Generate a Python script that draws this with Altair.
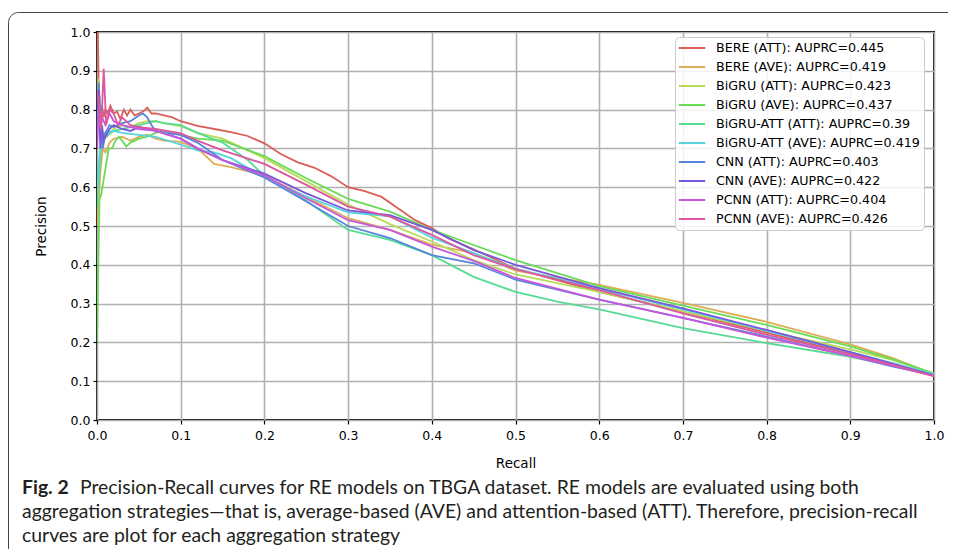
import altair as alt
import pandas as pd

series = [
    "BERE (ATT): AUPRC=0.445",
    "BERE (AVE): AUPRC=0.419",
    "BiGRU (ATT): AUPRC=0.423",
    "BiGRU (AVE): AUPRC=0.437",
    "BiGRU-ATT (ATT): AUPRC=0.39",
    "BiGRU-ATT (AVE): AUPRC=0.419",
    "CNN (ATT): AUPRC=0.403",
    "CNN (AVE): AUPRC=0.422",
    "PCNN (ATT): AUPRC=0.404",
    "PCNN (AVE): AUPRC=0.426",
]
colors = ["#db5f57", "#dbae57", "#b9db57", "#69db57", "#57db94",
          "#57d3db", "#5784db", "#7957db", "#c957db", "#db579e"]

rec_bere_att = [0.0, 0.001, 0.002, 0.004, 0.006, 0.008, 0.01, 0.013, 0.016, 0.02, 0.024, 0.028, 0.032, 0.036, 0.04, 0.045, 0.05, 0.055, 0.06, 0.065, 0.07, 0.08, 0.09, 0.1, 0.12, 0.14, 0.16, 0.18, 0.2, 0.22, 0.24, 0.26, 0.28, 0.3, 0.32, 0.34, 0.36, 0.38, 0.4, 0.42, 0.45, 0.5, 0.6, 0.7, 0.8, 0.9, 0.95, 1.0]
pre_bere_att = [1.0, 1.0, 0.86, 0.79, 0.81, 0.78, 0.80, 0.79, 0.81, 0.79, 0.795, 0.775, 0.80, 0.785, 0.80, 0.785, 0.79, 0.795, 0.805, 0.79, 0.79, 0.785, 0.78, 0.77, 0.758, 0.75, 0.742, 0.732, 0.713, 0.685, 0.664, 0.65, 0.628, 0.600, 0.59, 0.575, 0.545, 0.515, 0.495, 0.468, 0.44, 0.39, 0.33, 0.279, 0.225, 0.172, 0.145, 0.115]

rec_bere_ave = [0.0, 0.002, 0.004, 0.007, 0.01, 0.015, 0.02, 0.03, 0.04, 0.05, 0.06, 0.07, 0.08, 0.1, 0.12, 0.14, 0.16, 0.2, 0.25, 0.3, 0.35, 0.4, 0.45, 0.5, 0.6, 0.7, 0.8, 0.9, 0.95, 1.0]
pre_bere_ave = [0.5, 0.55, 0.64, 0.70, 0.69, 0.715, 0.725, 0.73, 0.72, 0.73, 0.735, 0.725, 0.72, 0.717, 0.70, 0.66, 0.652, 0.63, 0.575, 0.52, 0.49, 0.452, 0.43, 0.385, 0.348, 0.302, 0.253, 0.195, 0.16, 0.118]

rec_bigru_att = [0.0, 0.002, 0.005, 0.008, 0.012, 0.02, 0.03, 0.04, 0.05, 0.06, 0.07, 0.08, 0.1, 0.12, 0.15, 0.2, 0.25, 0.3, 0.35, 0.4, 0.45, 0.5, 0.6, 0.7, 0.8, 0.9, 0.95, 1.0]
pre_bigru_att = [0.7, 0.88, 0.72, 0.74, 0.73, 0.75, 0.76, 0.755, 0.765, 0.77, 0.77, 0.765, 0.757, 0.74, 0.725, 0.675, 0.615, 0.555, 0.505, 0.46, 0.412, 0.375, 0.33, 0.28, 0.23, 0.182, 0.155, 0.12]

rec_bigru_ave = [0.0, 0.001, 0.002, 0.003, 0.005, 0.008, 0.011, 0.014, 0.018, 0.022, 0.026, 0.03, 0.035, 0.04, 0.045, 0.05, 0.06, 0.07, 0.08, 0.1, 0.12, 0.15, 0.2, 0.25, 0.3, 0.35, 0.4, 0.45, 0.5, 0.6, 0.7, 0.8, 0.9, 0.95, 1.0]
pre_bigru_ave = [0.2, 0.33, 0.45, 0.57, 0.58, 0.62, 0.66, 0.70, 0.70, 0.72, 0.73, 0.72, 0.705, 0.715, 0.72, 0.725, 0.73, 0.74, 0.745, 0.735, 0.725, 0.72, 0.68, 0.623, 0.57, 0.537, 0.49, 0.451, 0.412, 0.345, 0.295, 0.245, 0.19, 0.157, 0.12]

rec_bigruatt_att = [0.0, 0.002, 0.005, 0.01, 0.02, 0.03, 0.04, 0.05, 0.06, 0.07, 0.08, 0.1, 0.12, 0.15, 0.18, 0.2, 0.25, 0.3, 0.35, 0.4, 0.45, 0.5, 0.55, 0.6, 0.7, 0.8, 0.9, 0.95, 1.0]
pre_bigruatt_att = [0.55, 0.62, 0.70, 0.73, 0.745, 0.75, 0.755, 0.76, 0.765, 0.77, 0.765, 0.76, 0.74, 0.715, 0.67, 0.63, 0.565, 0.49, 0.464, 0.425, 0.369, 0.33, 0.305, 0.285, 0.237, 0.198, 0.163, 0.14, 0.115]

rec_bigruatt_ave = [0.0, 0.002, 0.005, 0.01, 0.02, 0.03, 0.05, 0.07, 0.1, 0.12, 0.14, 0.16, 0.2, 0.25, 0.3, 0.35, 0.4, 0.45, 0.5, 0.6, 0.7, 0.8, 0.9, 0.95, 1.0]
pre_bigruatt_ave = [0.6, 0.66, 0.72, 0.74, 0.745, 0.74, 0.735, 0.73, 0.71, 0.695, 0.69, 0.675, 0.625, 0.576, 0.535, 0.525, 0.47, 0.43, 0.39, 0.338, 0.285, 0.23, 0.175, 0.147, 0.118]

rec_cnn_att = [0.0, 0.002, 0.004, 0.007, 0.01, 0.015, 0.02, 0.03, 0.04, 0.05, 0.055, 0.06, 0.065, 0.07, 0.08, 0.1, 0.12, 0.15, 0.2, 0.25, 0.3, 0.35, 0.4, 0.45, 0.5, 0.6, 0.7, 0.8, 0.9, 0.95, 1.0]
pre_cnn_att = [0.75, 0.87, 0.78, 0.70, 0.74, 0.76, 0.755, 0.765, 0.77, 0.785, 0.79, 0.78, 0.76, 0.745, 0.74, 0.735, 0.715, 0.67, 0.625, 0.563, 0.50, 0.469, 0.425, 0.404, 0.362, 0.31, 0.263, 0.215, 0.165, 0.138, 0.115]

rec_cnn_ave = [0.0, 0.002, 0.004, 0.006, 0.008, 0.01, 0.015, 0.02, 0.03, 0.04, 0.05, 0.07, 0.1, 0.12, 0.15, 0.2, 0.25, 0.3, 0.35, 0.4, 0.45, 0.5, 0.6, 0.7, 0.8, 0.9, 0.95, 1.0]
pre_cnn_ave = [0.8, 0.85, 0.70, 0.76, 0.72, 0.73, 0.75, 0.76, 0.75, 0.745, 0.755, 0.745, 0.725, 0.70, 0.67, 0.635, 0.584, 0.54, 0.528, 0.49, 0.438, 0.40, 0.34, 0.288, 0.232, 0.175, 0.145, 0.115]

rec_pcnn_att = [0.0, 0.002, 0.004, 0.006, 0.01, 0.015, 0.02, 0.03, 0.05, 0.07, 0.1, 0.12, 0.15, 0.2, 0.25, 0.3, 0.35, 0.4, 0.45, 0.5, 0.6, 0.7, 0.8, 0.9, 0.95, 1.0]
pre_pcnn_att = [0.7, 0.80, 0.75, 0.78, 0.76, 0.79, 0.77, 0.76, 0.75, 0.745, 0.725, 0.70, 0.67, 0.63, 0.571, 0.515, 0.49, 0.447, 0.41, 0.366, 0.31, 0.263, 0.212, 0.165, 0.14, 0.113]

rec_pcnn_ave = [0.0, 0.002, 0.005, 0.008, 0.011, 0.015, 0.02, 0.025, 0.03, 0.04, 0.05, 0.07, 0.1, 0.12, 0.15, 0.2, 0.25, 0.3, 0.35, 0.4, 0.45, 0.5, 0.6, 0.7, 0.8, 0.9, 0.95, 1.0]
pre_pcnn_ave = [0.85, 0.82, 0.75, 0.905, 0.76, 0.80, 0.79, 0.76, 0.78, 0.76, 0.755, 0.75, 0.739, 0.72, 0.695, 0.66, 0.606, 0.55, 0.524, 0.477, 0.425, 0.389, 0.335, 0.275, 0.22, 0.17, 0.143, 0.113]

ticks = [0.0, 0.1, 0.2, 0.3, 0.4, 0.5, 0.6, 0.7, 0.8, 0.9, 1.0]

fig_label = "Fig. 2"
caption_lines = [
    "Precision-Recall curves for RE models on TBGA dataset. RE models are evaluated using both",
    "aggregation strategies\u2014that is, average-based (AVE) and attention-based (ATT). Therefore, precision-recall",
    "curves are plot for each aggregation strategy",
]

recalls = [rec_bere_att, rec_bere_ave, rec_bigru_att, rec_bigru_ave, rec_bigruatt_att,
           rec_bigruatt_ave, rec_cnn_att, rec_cnn_ave, rec_pcnn_att, rec_pcnn_ave]
precisions = [pre_bere_att, pre_bere_ave, pre_bigru_att, pre_bigru_ave, pre_bigruatt_att,
              pre_bigruatt_ave, pre_cnn_att, pre_cnn_ave, pre_pcnn_att, pre_pcnn_ave]

rows = []
for name, rs, ps in zip(series, recalls, precisions):
    for i, (r, p) in enumerate(zip(rs, ps)):
        rows.append({"model": name, "recall": r, "precision": p, "order": i})
df = pd.DataFrame(rows)

AX_FONT = "DejaVu Sans"
CAP_FONT = "Lato"
CAP_SIZE = 19.4

lines = alt.Chart(df).mark_line(strokeWidth=1.8, clip=True).encode(
    x=alt.X("recall:Q", scale=alt.Scale(domain=[0, 1], nice=False, zero=False),
            axis=alt.Axis(values=ticks, format=".1f", title="Recall", titlePadding=15,
                          labelFlush=False, labelPadding=5)),
    y=alt.Y("precision:Q", scale=alt.Scale(domain=[0, 1], nice=False, zero=False),
            axis=alt.Axis(values=ticks, format=".1f", title="Precision", titlePadding=22,
                          labelFlush=False)),
    color=alt.Color("model:N", sort=series,
                    scale=alt.Scale(domain=series, range=colors),
                    legend=alt.Legend(
                        title=None, orient="none", legendX=578, legendY=5,
                        symbolType="M-2.2,0H2.2", symbolSize=144, symbolStrokeWidth=2,
                        symbolOffset=6, labelOffset=17,
                        labelFont=AX_FONT, labelFontSize=12.7, labelColor="#000000",
                        labelLimit=400, rowPadding=5, padding=4,
                        fillColor="rgba(255,255,255,0.85)", strokeColor="#cccccc",
                        cornerRadius=4)),
    order="order:Q",
)

frame = alt.Chart(pd.DataFrame({"f": [0]})).mark_rect(
    fill=None, stroke="#444444", strokeWidth=1, cornerRadius=10, clip=False
).encode(x=alt.value(-88.5), x2=alt.value(1000), y=alt.value(-19.5), y2=alt.value(700))

fig_text = alt.Chart(pd.DataFrame({"t": [fig_label]})).mark_text(
    font=CAP_FONT, fontSize=CAP_SIZE, fontWeight="bold", align="left", baseline="alphabetic",
    color="#231f20", clip=False
).encode(text="t:N", x=alt.value(-75), y=alt.value(462))

cap_layers = []
cap_x = [-17, -75, -75]
cap_y = [462, 486, 510]
for line, cx, cy in zip(caption_lines, cap_x, cap_y):
    cap_layers.append(
        alt.Chart(pd.DataFrame({"t": [line]})).mark_text(
            font=CAP_FONT, fontSize=CAP_SIZE, align="left", baseline="alphabetic",
            color="#231f20", clip=False
        ).encode(text="t:N", x=alt.value(cx), y=alt.value(cy))
    )

chart = alt.layer(frame, lines, fig_text, *cap_layers).properties(
    width=837, height=388,
    autosize=alt.AutoSizeParams(type="none"),
    padding={"left": 89, "top": 24, "right": 14, "bottom": 129},
    background="white",
).configure_view(
    stroke="#000000", strokeWidth=2
).configure_axis(
    grid=True, gridColor="#b0b0b0", gridWidth=1.6,
    domain=False, ticks=True, tickColor="#000000", tickWidth=1.2, tickSize=4,
    labelFont=AX_FONT, labelFontSize=12.5, labelColor="#000000", labelPadding=3,
    titleFont=AX_FONT, titleFontSize=13.5, titleFontWeight="normal", titleColor="#000000",
)

chart.save("out.html", embed_options={"renderer": "svg", "actions": False})
